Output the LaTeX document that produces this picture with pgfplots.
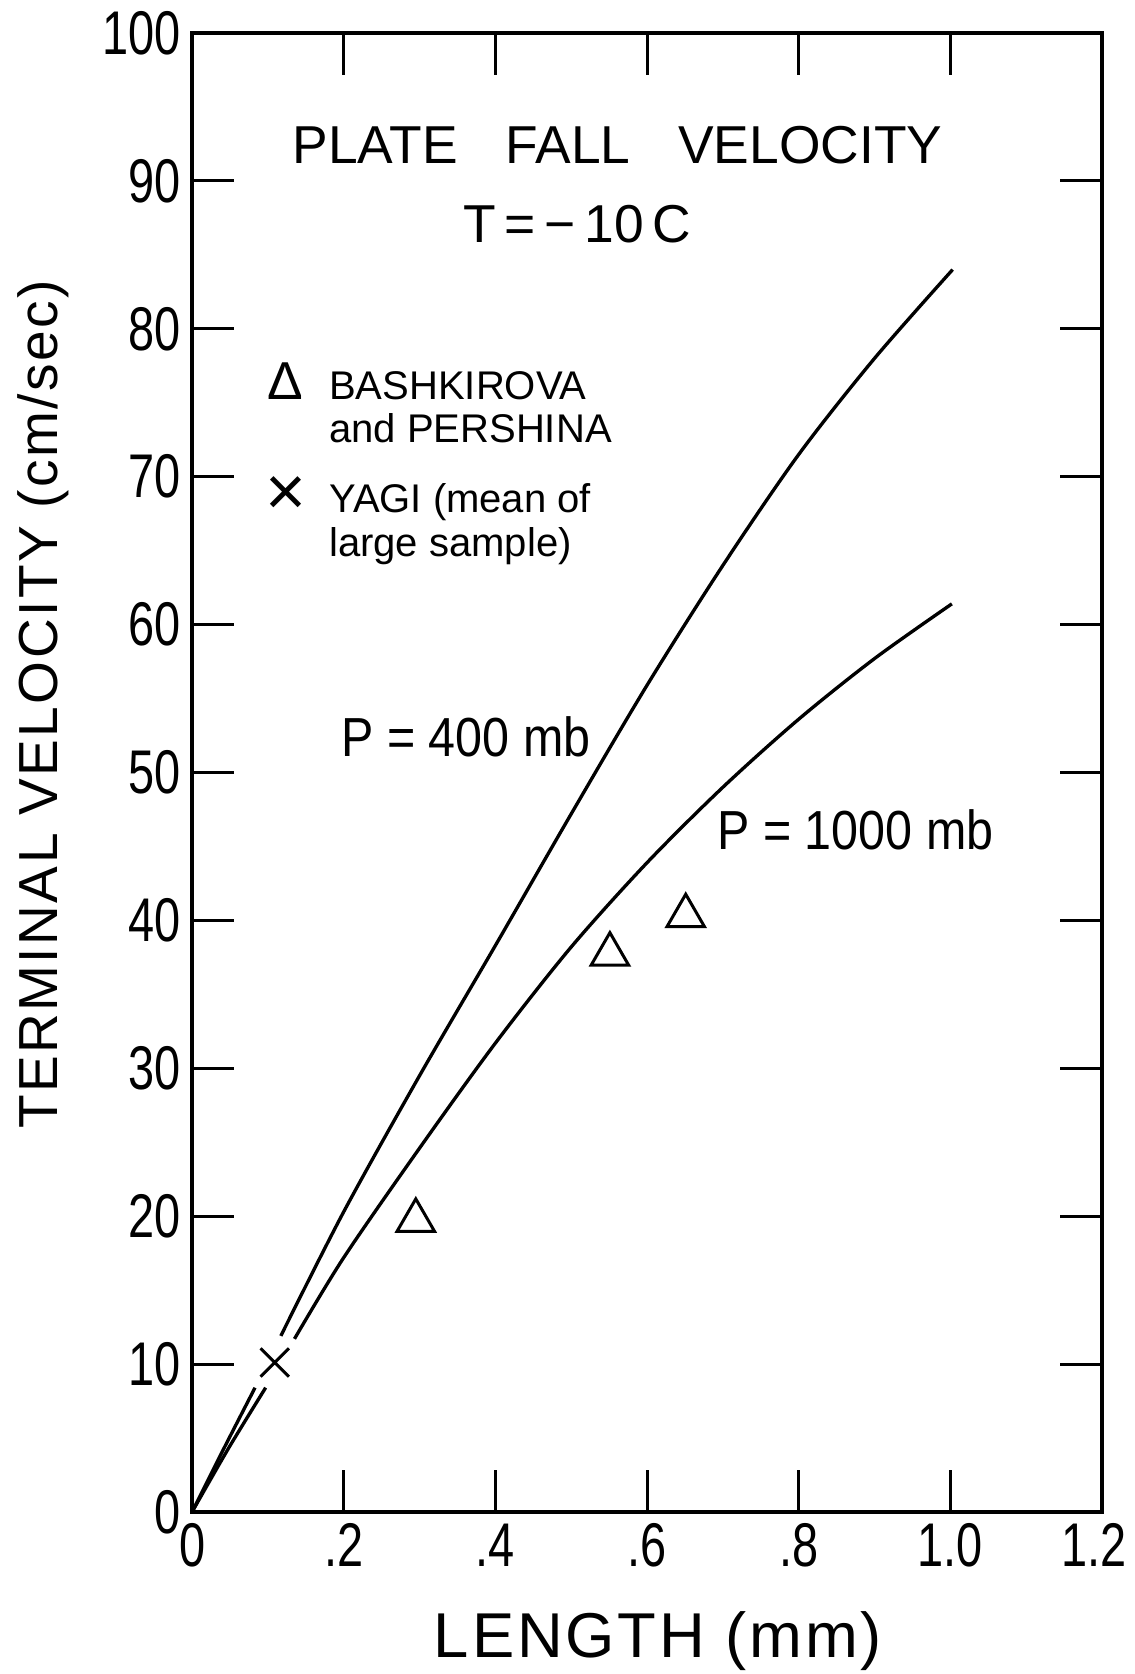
\documentclass[border=0pt]{standalone}
\usepackage{fontspec}
\setmainfont{Liberation Sans}
\newfontfamily\spacedfont[LetterSpace=4.5]{Liberation Sans}
\newfontfamily\tickfont[FakeStretch=0.76]{Liberation Sans}
\newfontfamily\narrowfont[FakeStretch=0.88]{Liberation Sans}
\usepackage{pgfplots}
\usepackage{pgfplotstable}
\pgfplotsset{compat=1.18}

\pgfplotstableread{
L v
0 0
0.041 4.2
0.083 8.4
nan nan
0.117 11.9
0.2 20.3
0.3 29.5
0.4 38.3
0.5 47.2
0.6 55.9
0.7 64.0
0.8 71.5
0.9 78.0
1.003 84.0
}\curveupper

\pgfplotstableread{
L v
0 0
0.048 4.3
0.097 8.4
nan nan
0.135 11.7
0.2 17.2
0.3 24.6
0.4 31.7
0.5 38.2
0.6 43.9
0.7 49.0
0.8 53.6
0.9 57.7
1.002 61.4
}\curvelower

\begin{document}
\begin{tikzpicture}
\begin{axis}[
  scale only axis,
  width=272.8pt, height=443.4pt,
  xmin=0, xmax=1.2, ymin=0, ymax=100,
  xtick={0,0.2,0.4,0.6,0.8,1.0,1.2},
  xticklabels={0,.2,.4,.6,.8,1.0,{\hspace*{-5pt}1.2}},
  ytick={0,10,20,30,40,50,60,70,80,90,100},
  tick align=inside,
  major tick length=12.5pt,
  axis line style={line width=1.2pt},
  every tick/.style={black, line width=0.9pt},
  /pgf/number format/assume math mode=true,
  ticklabel style={font=\tickfont\fontsize{18.5}{18.5}\selectfont},
  xlabel={LENGTH (mm)},
  ylabel={TERMINAL VELOCITY (cm/sec)},
  xlabel style={at={(axis description cs:0.512,-0.0874)}, anchor=center, font=\spacedfont\fontsize{19}{19}\selectfont},
  ylabel style={at={(axis description cs:-0.1636,0.546)}, anchor=center, font=\spacedfont\fontsize{16.5}{16.5}\selectfont},
  unbounded coords=jump,
  clip=false,
]
\coordinate (BL) at (rel axis cs:0,0);
\coordinate (TR) at (rel axis cs:1,1);

\addplot[black, line width=1pt, smooth, tension=0.5] table[x=L, y=v] {\curveupper};
\addplot[black, line width=1pt, smooth, tension=0.5] table[x=L, y=v] {\curvelower};

\addplot[only marks, mark=triangle, mark size=6.5pt, mark options={black, line width=0.9pt}] coordinates {(0.295,19.7) (0.551,37.7) (0.651,40.3)};
\addplot[only marks, mark=x, mark size=6pt, mark options={black, line width=0.9pt}] coordinates {(0.109,10.1)};

\node[font=\fontsize{16}{16}\selectfont] at (axis cs:0.561,92.4) {PLATE\hspace{0.9em}FALL\hspace{0.9em}VELOCITY};
\node[font=\fontsize{16}{16}\selectfont] at (axis cs:0.508,87.1) {T\,=\,−\,10\,C};

\begin{scope}[every node/.style={anchor=base west, inner sep=0pt, font=\fontsize{12}{12}\selectfont}]
\node[font=\fontsize{16}{16}\selectfont] at (axis cs:0.098,75.2) {Δ};
\node at (axis cs:0.18,75.2) {BASHKIROVA};
\node at (axis cs:0.18,72.3) {and PERSHINA};
\node[font=\fontsize{21}{21}\selectfont] at (axis cs:0.096,67.4) {×};
\node at (axis cs:0.18,67.6) {YAGI (mean of};
\node at (axis cs:0.18,64.6) {large sample)};
\end{scope}

\node[anchor=base west, inner sep=0pt, font=\narrowfont\fontsize{16.5}{16.5}\selectfont] at (axis cs:0.196,51.1) {P = 400 mb};
\node[anchor=base west, inner sep=0pt, font=\narrowfont\fontsize{16.5}{16.5}\selectfont] at (axis cs:0.692,44.8) {P = 1000 mb};
\end{axis}
\pgfresetboundingbox
\path[use as bounding box] ([xshift=-57.6pt,yshift=-48.6pt]BL) rectangle ([xshift=9.6pt,yshift=9.9pt]TR);
\end{tikzpicture}
\end{document}
